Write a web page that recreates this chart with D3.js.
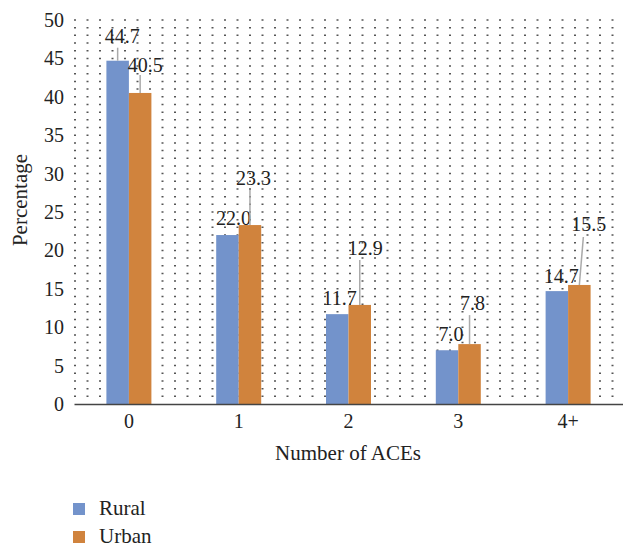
<!DOCTYPE html>
<html>
<head>
<meta charset="utf-8">
<script src="https://cdn.jsdelivr.net/npm/d3@7"></script>
<style>
  html, body { margin: 0; padding: 0; background: #fff; }
  svg { display: block; }
  text { font-family: "Liberation Serif", "DejaVu Serif", serif; fill: #222; }
</style>
</head>
<body>
<svg id="chart" width="623" height="548"></svg>
<script>
// Share of respondents by number of adverse childhood experiences
const categories = ["0", "1", "2", "3", "4+"];
const seriesNames = ["Rural", "Urban"];
const rural = [44.7, 22.0, 11.7, 7.0, 14.7];
const urban = [40.5, 23.3, 12.9, 7.8, 15.5];
const yTicks = [0, 5, 10, 15, 20, 25, 30, 35, 40, 45, 50];

// Layout: hand-placed label offsets (px) relative to each bar top centre
const labelShift = {
  Rural: [[4.5, -18, 13], [6, -10, 0], [2.5, -9, 0], [4, -9, 0], [4.5, -8, 0]],
  Urban: [[5, -21, 18], [3.5, -40, 35], [5.5, -50, 45], [3, -34, 29], [9.5, -54, 48]]
};
const colors = { Rural: "#7393CB", Urban: "#D0833D" };

const svg = d3.select("#chart");
const plotLeft = 74, plotRight = 623, plotTop = 20, plotBottom = 404;

const y = d3.scaleLinear().domain([0, 50]).range([plotBottom, plotTop]);
const x0 = d3.scaleBand().domain(categories).range([plotLeft, plotRight]).padding(0);
const bw = x0.bandwidth();
const x1 = d3.scaleBand().domain(seriesNames)
  .range([bw / 2 - 22.5, bw / 2 + 22.5]).padding(0);

// Dotted background grid, one row per unit
const gridRows = d3.range(1, 51);
svg.append("g").selectAll("line").data(gridRows).join("line")
  .attr("x1", plotLeft).attr("x2", plotRight)
  .attr("y1", d => y(d)).attr("y2", d => y(d))
  .attr("stroke", "#555").attr("stroke-width", 1.5)
  .attr("stroke-dasharray", "2,10.5");

// Bars
const values = { Rural: rural, Urban: urban };
const groups = svg.append("g").selectAll("g").data(categories).join("g")
  .attr("transform", d => `translate(${x0(d)},0)`);

groups.selectAll("rect")
  .data((c, i) => seriesNames.map(s => ({ s, v: values[s][i], i })))
  .join("rect")
  .attr("x", d => x1(d.s))
  .attr("width", x1.bandwidth())
  .attr("y", d => y(d.v))
  .attr("height", d => y(0) - y(d.v))
  .attr("fill", d => colors[d.s]);

// Value labels with leader lines
groups.each(function (c, i) {
  const g = d3.select(this);
  seriesNames.forEach(s => {
    const v = values[s][i];
    const [dx, dy, lead] = labelShift[s][i];
    const cx = x1(s) + x1.bandwidth() / 2;
    const ty = y(v);
    if (lead > 0) {
      const endX = (s === "Urban" && i === 4) ? cx + 4 : cx;
      g.append("line")
        .attr("x1", cx).attr("y1", ty)
        .attr("x2", endX).attr("y2", ty - lead)
        .attr("stroke", "#aaa").attr("stroke-width", 1.5);
    }
    g.append("text")
      .attr("x", cx + dx).attr("y", ty + dy)
      .attr("text-anchor", "middle")
      .attr("font-size", 20)
      .text(v.toFixed(1));
  });
});

// X axis
const xAxis = svg.append("g").attr("transform", `translate(0,${plotBottom})`)
  .call(d3.axisBottom(x0).tickSize(0).tickPadding(10));
xAxis.select(".domain").attr("stroke", "#444").attr("stroke-width", 1.5);
xAxis.selectAll("text").attr("font-size", 20).attr("fill", "#222")
  .style("font-family", "Liberation Serif, serif");

// Y axis (labels only)
const yAxis = svg.append("g").attr("transform", `translate(${plotLeft},0)`)
  .call(d3.axisLeft(y).tickValues(yTicks).tickSize(0).tickPadding(10));
yAxis.select(".domain").remove();
yAxis.selectAll("text").attr("font-size", 20).attr("fill", "#222")
  .style("font-family", "Liberation Serif, serif");

// Axis titles
svg.append("text")
  .attr("x", 348).attr("y", 460)
  .attr("text-anchor", "middle").attr("font-size", 21)
  .text("Number of ACEs");
svg.append("text")
  .attr("transform", "translate(27,200) rotate(-90)")
  .attr("text-anchor", "middle").attr("font-size", 21)
  .text("Percentage");

// Legend
const legend = svg.append("g").selectAll("g").data(seriesNames).join("g")
  .attr("transform", (d, i) => `translate(73,${503 + i * 28})`);
legend.append("rect").attr("width", 12).attr("height", 12)
  .attr("fill", d => colors[d]);
legend.append("text").attr("x", 26).attr("y", 12)
  .attr("font-size", 21).text(d => d);
</script>
</body>
</html>
